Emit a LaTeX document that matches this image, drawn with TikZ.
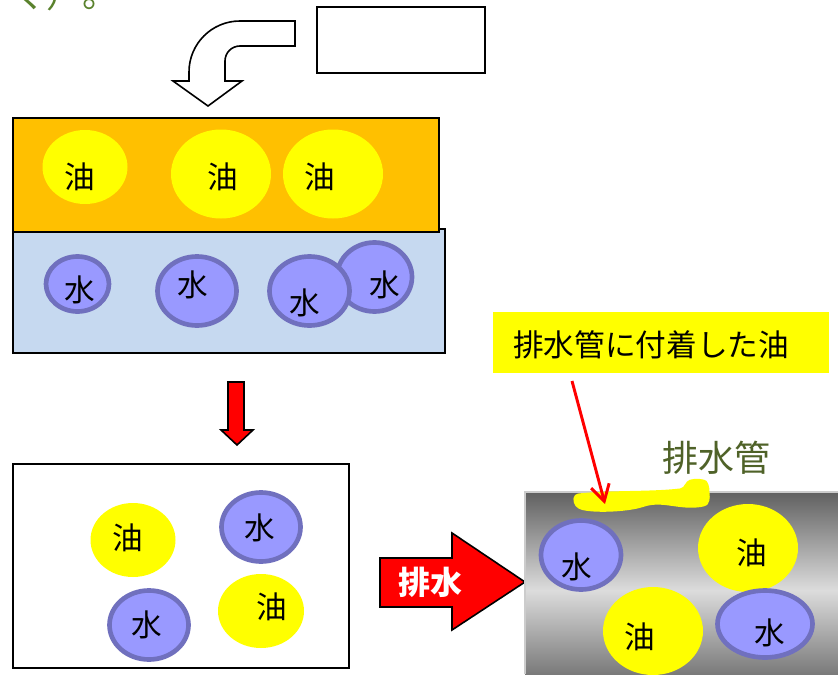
\documentclass[tikz,border=0pt]{standalone}
\usepackage{fontspec}
\setmainfont{Noto Sans CJK JP}
\usetikzlibrary{shapes.geometric,arrows.meta}
\definecolor{oilY}{RGB}{255,255,0}
\definecolor{orangeL}{RGB}{255,192,0}
\definecolor{waterBg}{RGB}{198,217,240}
\definecolor{waterF}{RGB}{153,153,255}
\definecolor{waterB}{RGB}{112,112,190}
\definecolor{olive}{RGB}{79,98,40}
\definecolor{titleG}{RGB}{90,130,45}
\definecolor{ptop}{RGB}{96,96,96}
\definecolor{plight}{RGB}{220,220,220}
\definecolor{pbot}{RGB}{122,122,122}
\pgfdeclareverticalshading{pipeshade}{100bp}{color(0bp)=(pbot); color(25bp)=(pbot); color(48bp)=(plight); color(75bp)=(ptop); color(100bp)=(ptop)}
\tikzset{
  oil/.style 2 args={ellipse, fill=oilY, inner sep=0pt, minimum width=#1*0.75pt, minimum height=#2*0.75pt},
  water/.style 2 args={ellipse, fill=waterF, draw=waterB, line width=3.5pt, inner sep=0pt,
     minimum width=(#1*2-5)*0.75pt, minimum height=(#2*2-5)*0.75pt},
  lbl/.style={font=\fontsize{23}{23}\selectfont, inner sep=0pt},
  boxline/.style={draw=black, line width=1.2pt},
}
\begin{document}
\begin{tikzpicture}[x=0.75pt,y=-0.75pt]
\clip (0,0) rectangle (838,674);
\fill[white] (0,0) rectangle (838,674);

% top-left cut title fragment
\node[anchor=base west, inner sep=0pt, text=titleG, font=\fontsize{27}{27}\selectfont] (ttl) at (10,8) {く）。};

% curved block arrow
\draw[fill=white, line width=1.2pt, line join=miter]
  (295,21) -- (240,21) .. controls (211.8,21) and (189,43.8) .. (189,72) -- (189,81) -- (173,81)
  -- (208,106) -- (242,81) -- (225,81) -- (225,61) .. controls (225,52.7) and (231.7,46) .. (240,46)
  -- (295,46) -- cycle;
% empty box
\node[boxline, fill=white, minimum width=168*0.75pt, minimum height=66*0.75pt, inner sep=0pt] (ebox) at (401,40) {};

% separated layers
\node[boxline, fill=waterBg, minimum width=432*0.75pt, minimum height=124*0.75pt, inner sep=0pt] (wlayer) at (229,291) {};
\node[boxline, fill=orangeL, minimum width=426*0.75pt, minimum height=114*0.75pt, inner sep=0pt] (olayer) at (226,175) {};

\node[oil={85}{74}] (o1) at (85,167) {};
\node[oil={100}{89}] (o2) at (221,174) {};
\node[oil={100}{89}] (o3) at (333,174) {};
\node[lbl] (t1) at (80,177) {油};
\node[lbl] (t2) at (223,177) {油};
\node[lbl] (t3) at (320,177) {油};

\node[water={34}{30}] (w1) at (77.5,284) {};
\node[water={42}{37}] (w2) at (197,291) {};
\node[water={40}{37}] (w4) at (374.5,277) {};
\node[water={42.5}{37}] (w3) at (309.5,291) {};
\node[lbl] (tw1) at (80,290) {水};
\node[lbl] (tw2) at (193,285) {水};
\node[lbl] (tw3) at (305,303) {水};
\node[lbl] (tw4) at (385,285) {水};

% red down arrow
\draw[fill=red, line width=1.2pt, line join=miter]
  (228,382) -- (244,382) -- (244,430) -- (253,430) -- (237,445) -- (221,430) -- (228,430) -- cycle;

% mixed box
\node[boxline, fill=white, minimum width=336*0.75pt, minimum height=204*0.75pt, inner sep=0pt] (mbox) at (181,566) {};
\node[oil={85}{74}] (m1) at (133,540) {};
\node[water={42}{37}] (m2) at (261,527) {};
\node[water={42}{37}] (m3) at (149,625) {};
\node[oil={86}{74}] (m4) at (261,611) {};
\node[lbl] (tm1) at (128,538) {油};
\node[lbl] (tm2) at (260,528) {水};
\node[lbl] (tm3) at (147,625) {水};
\node[lbl] (tm4) at (272,607) {油};

% red right arrow
\draw[fill=red, line width=1.2pt, line join=miter]
  (380,558) -- (452,558) -- (452,533) -- (525,582) -- (452,630) -- (452,607) -- (380,607) -- cycle;
\node[inner sep=0pt, text=white, font=\fontsize{24}{24}\selectfont\bfseries] (haisui) at (430,582) {排水};

% pipe
\shade[shading=pipeshade] (525,492) rectangle (838,674);
\draw[black!20, line width=1.5pt] (838,492) -- (525,492) -- (525,674);

\node[oil={100}{88}] (p2) at (748,548) {};
\node[oil={100}{88}] (p3) at (653,631) {};
\node[water={42.5}{37}] (p1) at (581,555) {};
\node[water={50}{36}] (p4) at (765,624) {};
\node[lbl] (tp1) at (577,567) {水};
\node[lbl] (tp2) at (752,553) {油};
\node[lbl] (tp3) at (640,637) {油};
\node[lbl] (tp4) at (770,633) {水};

% oil smear on pipe
\fill[oilY, rounded corners=3pt]
  (574,494) .. controls (610,490) and (650,492) .. (684,488)
  -- (686,481) .. controls (695,478) and (705,479) .. (709,484)
  -- (710,501) .. controls (705,508) and (690,508) .. (680,507)
  .. controls (665,505) and (655,503) .. (640,508)
  .. controls (620,512) and (595,513) .. (578,509)
  -- (573,503) -- cycle;

% pipe label
\node[inner sep=0pt, text=olive, font=\fontsize{27}{27}\selectfont] (pipelbl) at (716,458) {排水管};

% yellow callout
\node[fill=oilY, minimum width=336*0.75pt, minimum height=61*0.75pt, inner sep=0pt] (callout) at (661,342.5) {};
\node[inner sep=0pt, font=\fontsize{23}{23}\selectfont] (callouttxt) at (651,345) {排水管に付着した油};
\coordinate (cs) at (572,381);
\coordinate (ce) at (605,504);
\draw[red, line width=2.2pt, -{Straight Barb[length=12pt, width=14pt]}] (cs) -- (ce);
\end{tikzpicture}
\end{document}
